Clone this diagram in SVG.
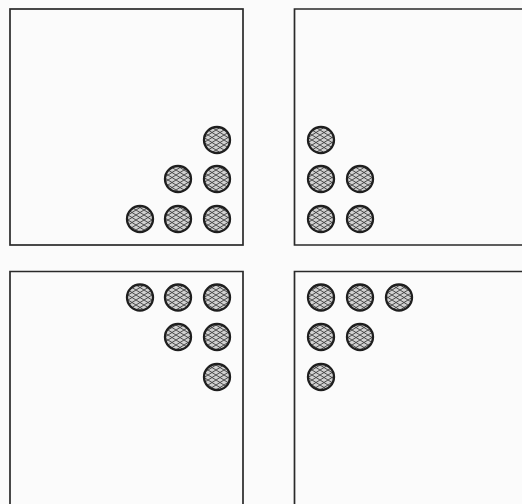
<svg xmlns="http://www.w3.org/2000/svg" width="522" height="504" viewBox="0 0 522 504">
<defs>
<pattern id="mesh" patternUnits="userSpaceOnUse" width="8" height="5">
<rect width="8" height="5" fill="#cfcfcf"/>
<path d="M0,0 L8,5 M8,0 L0,5" stroke="#3a3a3a" stroke-width="0.9" fill="none"/>
</pattern>
<style>
.box{fill:none;stroke:#2a2a2a;stroke-width:1.7}
.ball{fill:url(#mesh);stroke:#1e1e1e;stroke-width:2.3}
</style>
</defs>
<rect width="522" height="504" fill="#fbfbfb"/>
<g id="panel-top-left">
<rect class="box" x="10" y="9" width="233" height="236"/>
<circle class="ball" cx="217" cy="140" r="13"/>
<circle class="ball" cx="178" cy="179" r="13"/>
<circle class="ball" cx="217" cy="179" r="13"/>
<circle class="ball" cx="140" cy="219" r="13"/>
<circle class="ball" cx="178" cy="219" r="13"/>
<circle class="ball" cx="217" cy="219" r="13"/>
</g>
<g id="panel-top-right">
<path class="box" d="M523,9 H294.5 V245 H523"/>
<circle class="ball" cx="321" cy="140" r="13"/>
<circle class="ball" cx="321" cy="179" r="13"/>
<circle class="ball" cx="360" cy="179" r="13"/>
<circle class="ball" cx="321" cy="219" r="13"/>
<circle class="ball" cx="360" cy="219" r="13"/>
</g>
<g id="panel-bottom-left">
<path class="box" d="M10,505 V271.5 H243 V505"/>
<circle class="ball" cx="140" cy="297.5" r="13"/>
<circle class="ball" cx="178" cy="297.5" r="13"/>
<circle class="ball" cx="217" cy="297.5" r="13"/>
<circle class="ball" cx="178" cy="337" r="13"/>
<circle class="ball" cx="217" cy="337" r="13"/>
<circle class="ball" cx="217" cy="377" r="13"/>
</g>
<g id="panel-bottom-right">
<path class="box" d="M294.5,505 V271.5 H523"/>
<circle class="ball" cx="321" cy="297.5" r="13"/>
<circle class="ball" cx="360" cy="297.5" r="13"/>
<circle class="ball" cx="399" cy="297.5" r="13"/>
<circle class="ball" cx="321" cy="337" r="13"/>
<circle class="ball" cx="360" cy="337" r="13"/>
<circle class="ball" cx="321" cy="377" r="13"/>
</g>
<g id="connectors"/>
</svg>
